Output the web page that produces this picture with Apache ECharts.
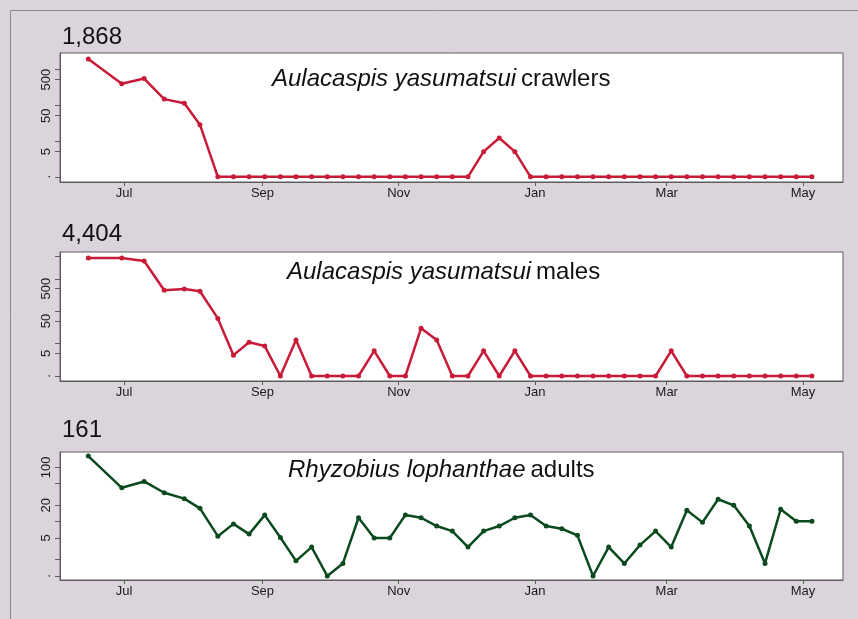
<!DOCTYPE html>
<html>
<head>
<meta charset="utf-8">
<script src="https://cdn.jsdelivr.net/npm/echarts@6.0.0/dist/echarts.min.js"></script>
<style>
html, body { margin: 0; padding: 0; background: #dcd4dc; }
#main { width: 858px; height: 619px; }
</style>
</head>
<body>
<div id="main"></div>
<script>
// sampling dates (weekly from mid-August)
var dates = ['2006-06-15', '2006-06-30', '2006-07-10', '2006-07-19', '2006-07-28', '2006-08-04',
    '2006-08-12', '2006-08-19', '2006-08-26', '2006-09-02', '2006-09-09', '2006-09-16', '2006-09-23',
    '2006-09-30', '2006-10-07', '2006-10-14', '2006-10-21', '2006-10-28', '2006-11-04', '2006-11-11',
    '2006-11-18', '2006-11-25', '2006-12-02', '2006-12-09', '2006-12-16', '2006-12-23', '2006-12-30',
    '2007-01-06', '2007-01-13', '2007-01-20', '2007-01-27', '2007-02-03', '2007-02-10', '2007-02-17',
    '2007-02-24', '2007-03-03', '2007-03-10', '2007-03-17', '2007-03-24', '2007-03-31', '2007-04-07',
    '2007-04-14', '2007-04-21', '2007-04-28', '2007-05-05'];

// counts (bottom of the log scale = 1)
var crawlers = [1868, 385, 536, 144, 110, 28,
    1, 1, 1, 1, 1, 1, 1, 1, 1, 1, 1, 1, 1, 1, 1, 1, 1,
    5, 12, 5,
    1, 1, 1, 1, 1, 1, 1, 1, 1, 1, 1, 1, 1, 1, 1, 1, 1, 1, 1];
var males = [4404, 4400, 3540, 442, 484, 411, 60, 4.4, 11, 8.4, 1, 13,
    1, 1, 1, 1, 6, 1, 1, 30, 13, 1, 1, 6, 1, 6,
    1, 1, 1, 1, 1, 1, 1, 1, 1, 6, 1, 1, 1, 1, 1, 1, 1, 1, 1];
var adults = [161, 42, 55, 34, 26.5, 17.6, 5.4, 9.1, 5.9, 13.2, 5.1, 1.9, 3.4, 1, 1.7,
    11.8, 5, 5, 13.3, 11.8, 8.3, 6.7, 3.4, 6.7, 8.3, 11.8, 13.3, 8.3, 7.4, 5.6,
    1, 3.4, 1.7, 3.7, 6.7, 3.4, 16.2, 9.7, 25.8, 20, 8.3, 1.7, 16.9, 10.2, 10.2];

var monthTicks = ['2006-07-01', '2006-09-01', '2006-11-01', '2007-01-01', '2007-03-01', '2007-05-01'];
var monthLabels = ['Jul', 'Sep', 'Nov', 'Jan', 'Mar', 'May'];

var yTicks1 = [1, 5, 10, 50, 100, 500, 1000];
var yLabels1 = [1, 5, 50, 500];
var yTicks2 = [1, 5, 10, 50, 100, 500, 1000, 5000];
var yLabels2 = [1, 5, 50, 500];
var yTicks3 = [1, 2, 5, 10, 20, 50, 100];
var yLabels3 = [1, 5, 20, 100];

var panelNames = ['Aulacaspis yasumatsui', 'Aulacaspis yasumatsui', 'Rhyzobius lophanthae'];
var panelSuffix = ['crawlers', 'males', 'adults'];
var maxLabels = ['1,868', '4,404', '161'];

var FONT = 'Liberation Sans, Arial, sans-serif';
var RED = '#c81b38';
var GREEN = '#0b4a1f';
var AXIS = '#5c5c5c';

var myChart = echarts.init(document.getElementById('main'));

function toTime(s) {
    var p = s.split(/[- :]/);
    return new Date(+p[0], +p[1] - 1, +p[2], +(p[3] || 0)).getTime();
}
var tickTimes = monthTicks.map(toTime);
var lg = function (v) { return Math.log10(v); };

var grids = [
    { left: 60, right: 15, top: 53, height: 129 },
    { left: 60, right: 15, top: 252, height: 129 },
    { left: 60, right: 15, top: 452, height: 128 }
];
var yRanges = [[-0.144, 3.439], [-0.154, 3.827], [-0.074, 2.282]];
var yTicks = [yTicks1, yTicks2, yTicks3];
var yLabels = [yLabels1, yLabels2, yLabels3];
var seriesData = [crawlers, males, adults];
var colors = [RED, RED, GREEN];

var xAxes = [], yAxes = [], series = [], titles = [];
grids.forEach(function (g, k) {
    g.show = true;
    g.backgroundColor = '#ffffff';
    g.borderColor = AXIS;
    g.borderWidth = 1;
    xAxes.push({
        type: 'value', gridIndex: k,
        min: toTime('2006-06-02 08'), max: toTime('2007-05-18 22'),
        axisLine: { onZero: false, lineStyle: { color: AXIS } },
        axisTick: { customValues: tickTimes, length: 4, lineStyle: { color: AXIS } },
        axisLabel: {
            customValues: tickTimes, color: '#1a1a1a', fontFamily: FONT, fontSize: 13, margin: 5,
            formatter: function (v) {
                var i = tickTimes.indexOf(v);
                return i >= 0 ? monthLabels[i] : '';
            }
        },
        splitLine: { show: false }
    });
    yAxes.push({
        type: 'value', gridIndex: k,
        min: yRanges[k][0], max: yRanges[k][1],
        axisLine: { show: true, onZero: false, lineStyle: { color: AXIS } },
        axisTick: { show: true, customValues: yTicks[k].map(lg), length: 5, lineStyle: { color: AXIS } },
        axisLabel: {
            customValues: yLabels[k].map(lg), rotate: 90, color: '#1a1a1a', fontFamily: FONT,
            fontSize: 13, margin: 7,
            formatter: function (v) {
                return Math.abs(v) < 1e-6 ? '.' : String(Math.round(Math.pow(10, v)));
            }
        },
        splitLine: { show: false }
    });
    series.push({
        type: 'line', xAxisIndex: k, yAxisIndex: k,
        data: dates.map(function (d, i) { return [toTime(d), lg(seriesData[k][i])]; }),
        symbol: 'circle', symbolSize: 5,
        lineStyle: { color: colors[k], width: 2.5 },
        itemStyle: { color: colors[k] },
        animation: false
    });
});

var maxPos = [[62, 25], [62, 222], [62, 418]];
for (var m = 0; m < 3; m++) {
    titles.push({
        text: maxLabels[m], left: maxPos[m][0], top: maxPos[m][1], padding: 0,
        textStyle: { fontFamily: FONT, fontSize: 24, fontWeight: 'normal', color: '#111' }
    });
}
var titlePos = [[272, 67], [287, 260], [288, 458]];
for (var k = 0; k < 3; k++) {
    titles.push({
        text: '{i|' + panelNames[k] + '} {n|' + panelSuffix[k] + '}',
        left: titlePos[k][0], top: titlePos[k][1], padding: 0,
        textStyle: {
            fontWeight: 'normal',
            rich: {
                i: { fontFamily: FONT, fontSize: 24, fontStyle: 'italic', fontWeight: 'normal', color: '#111' },
                n: { fontFamily: FONT, fontSize: 24, fontWeight: 'normal', color: '#111' }
            }
        }
    });
}

var option = {
    backgroundColor: '#dcd4dc',
    animation: false,
    title: titles,
    graphic: [{
        type: 'rect', silent: true, z: -1,
        shape: { x: 10.5, y: 10.5, width: 1000, height: 1000 },
        style: { fill: 'none', stroke: '#8a8a8a', lineWidth: 1 }
    }],
    grid: grids,
    xAxis: xAxes,
    yAxis: yAxes,
    series: series
};

myChart.setOption(option);
</script>
</body>
</html>
